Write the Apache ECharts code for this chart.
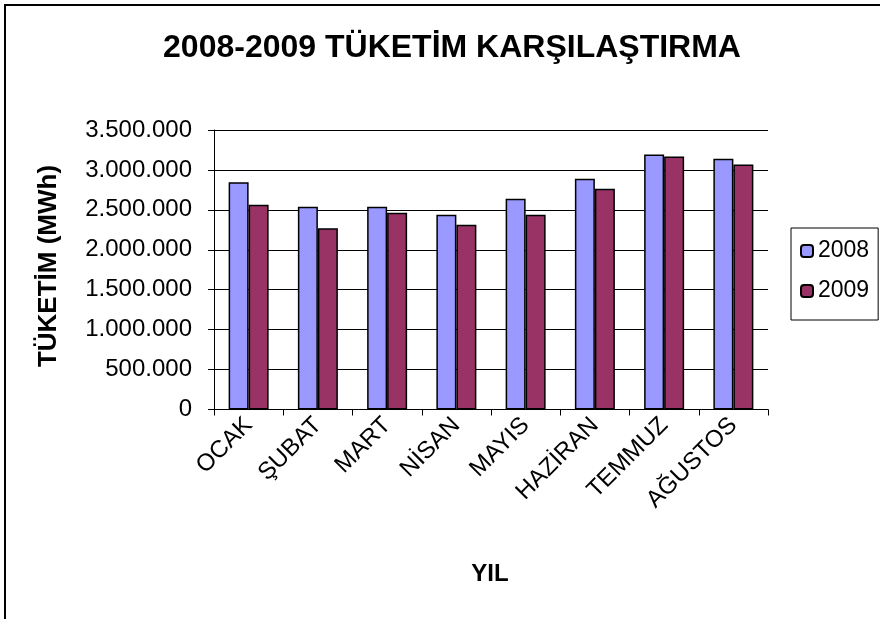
<!DOCTYPE html>
<html>
<head>
<meta charset="utf-8">
<script src="https://cdn.jsdelivr.net/npm/echarts@6/dist/echarts.min.js"></script>
<style>
  html, body { margin: 0; padding: 0; background: #fff; }
  #chart { width: 880px; height: 619px; }
</style>
</head>
<body>
<div id="chart"></div>
<script>
// aylar
const months = ['OCAK', 'ŞUBAT', 'MART', 'NİSAN', 'MAYIS', 'HAZİRAN', 'TEMMUZ', 'AĞUSTOS']
// tüketim (MWh)
const values2008 = [2845000, 2540000, 2540000, 2440000, 2640000, 2890000, 3194000, 3140000]
const values2009 = [2565000, 2269000, 2465000, 2315000, 2440000, 2765000, 3169000, 3069000]
const yTicks = { min: 0, max: 3500000, interval: 500000 }

const font = 'Liberation Sans, Arial, sans-serif'

// 1.500.000 gibi noktalı yazım
function dotted(v) {
  return String(v).replace(/\B(?=(\d{3})+(?!\d))/g, '.')
}

const chart = echarts.init(document.getElementById('chart'))

const option = {
  backgroundColor: '#ffffff',
  animation: false,
  textStyle: { fontFamily: font, color: '#000' },
  grid: {
    left: 214,
    right: 112,
    top: 130,
    bottom: 209.5,
    containLabel: false
  },
  legend: {
    orient: 'vertical',
    left: 791,
    top: 228,
    padding: [10, 9, 16, 9],
    itemWidth: 12,
    itemHeight: 12,
    itemGap: 14,
    borderColor: '#000',
    borderWidth: 1,
    textStyle: { fontFamily: font, fontSize: 23, color: '#000', lineHeight: 26 },
    data: ['2008', '2009']
  },
  graphic: [
    {
      // dış çerçeve
      type: 'rect',
      shape: { x: 5, y: 5, width: 1000, height: 1000 },
      style: { fill: 'none', stroke: '#000', lineWidth: 2 },
      silent: true
    },
    {
      type: 'text',
      x: 452,
      y: 48,
      style: {
        text: '2008-2009 TÜKETİM KARŞILAŞTIRMA',
        font: 'bold 32px ' + font,
        fill: '#000',
        align: 'center',
        verticalAlign: 'middle'
      }
    },
    {
      type: 'text',
      x: 49,
      y: 266,
      rotation: Math.PI / 2,
      style: {
        text: 'TÜKETİM (MWh)',
        font: 'bold 26px ' + font,
        fill: '#000',
        align: 'center',
        verticalAlign: 'middle'
      }
    },
    {
      type: 'text',
      x: 490,
      y: 574,
      style: {
        text: 'YIL',
        font: 'bold 24px ' + font,
        fill: '#000',
        align: 'center',
        verticalAlign: 'middle'
      }
    }
  ],
  xAxis: {
    type: 'category',
    data: months,
    axisLine: { show: true, lineStyle: { color: '#000', width: 1 } },
    axisTick: { show: true, length: 6, lineStyle: { color: '#000' } },
    axisLabel: {
      interval: 0,
      rotate: 45,
      margin: 12,
      fontSize: 24,
      fontFamily: font,
      color: '#000'
    },
    splitLine: { show: false }
  },
  yAxis: {
    type: 'value',
    min: yTicks.min,
    max: yTicks.max,
    interval: yTicks.interval,
    axisLine: { show: true, lineStyle: { color: '#000', width: 1 } },
    axisTick: { show: true, length: 6, lineStyle: { color: '#000' } },
    axisLabel: {
      margin: 22,
      fontSize: 24,
      fontFamily: font,
      color: '#000',
      formatter: v => dotted(v)
    },
    splitLine: { show: true, lineStyle: { color: '#000', width: 1 } }
  },
  series: [
    {
      name: '2008',
      type: 'bar',
      data: values2008,
      barWidth: 20,
      barGap: 0,
      itemStyle: { color: '#9999FF', borderColor: '#000', borderWidth: 1.5 }
    },
    {
      name: '2009',
      type: 'bar',
      data: values2009,
      barWidth: 20,
      barGap: 0,
      itemStyle: { color: '#993366', borderColor: '#000', borderWidth: 1.5 }
    }
  ]
}

chart.setOption(option)
</script>
</body>
</html>
